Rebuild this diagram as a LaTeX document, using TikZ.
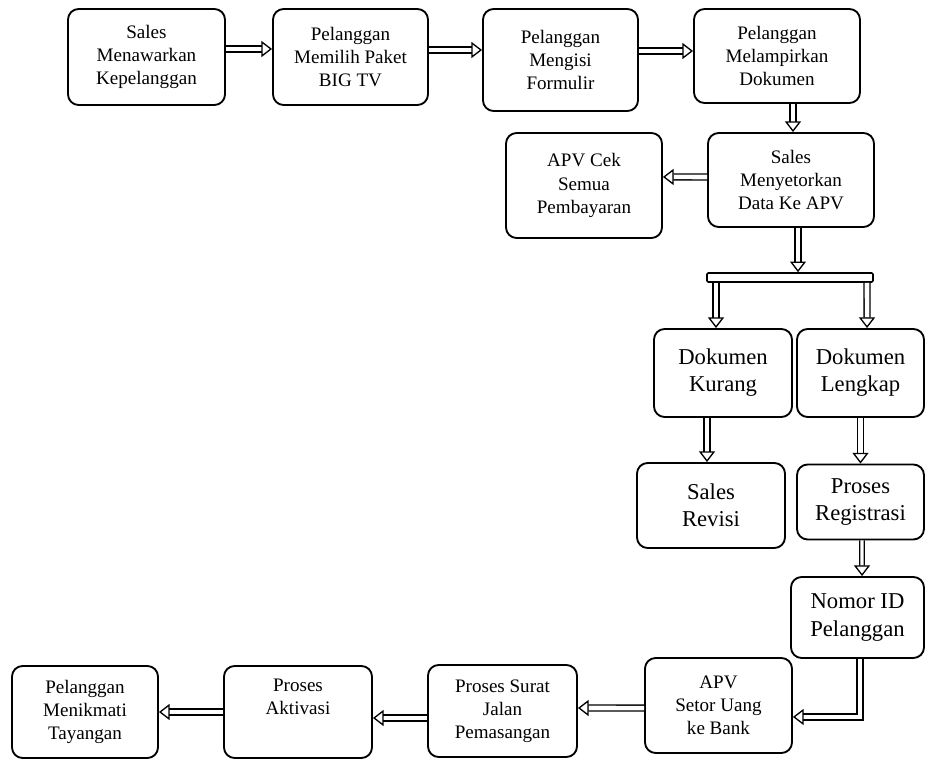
\documentclass[tikz,border=0pt]{standalone}
\usepackage{fontspec}
\setmainfont{Liberation Serif}
\usetikzlibrary{arrows.meta}
\usetikzlibrary{positioning}
\usetikzlibrary{calc}

\begin{document}
\begin{tikzpicture}[x=0.75pt,y=-0.75pt,>={Triangle[open,length=8pt,width=12pt,line width=1pt]},auto]
		\tikzstyle{box}=[draw,rounded corners=8pt,line width=1.4pt,align=center,inner sep=0pt]
		\tikzstyle{small}=[font=\fontsize{14.3pt}{17.3pt}\selectfont]
		\tikzstyle{large}=[font=\fontsize{17pt}{20.3pt}\selectfont]
		\tikzstyle{flow}=[draw,->,double,double distance=3.4pt,line width=1pt]
		\tikzstyle{thinflow}=[draw,->,double,double distance=2.4pt,line width=0.9pt]
		
		\useasboundingbox (0,0) rectangle (926,762);
		
		% baris atas
		\node[box,small,minimum width=117.75pt,minimum height=72pt]   (Sales)     at (146.5,57)  {Sales\\Menawarkan\\Kepelanggan};
		\node[box,small,minimum width=116.25pt,minimum height=72pt]   (Paket)     at (350.5,57)  {Pelanggan\\Memilih Paket\\BIG TV};
		\node[box,small,minimum width=116.25pt,minimum height=76.5pt] (Formulir)  at (560.5,60)  {Pelanggan\\Mengisi\\Formulir};
		\node[box,small,minimum width=124.5pt,minimum height=70.5pt]  (Dokumen)   at (777,56)    {Pelanggan\\Melampirkan\\Dokumen};
		\node[box,small,minimum width=124.5pt,minimum height=70.5pt]  (Setor)     at (791,180)   {Sales\\Menyetorkan\\Data Ke APV};
		\node[box,small,minimum width=117pt,minimum height=78.75pt]   (Cek)       at (584,185.5) {APV Cek\\Semua\\Pembayaran};
		\node[draw,line width=1.2pt,rounded corners=1pt,minimum width=124.5pt,minimum height=6.75pt,inner sep=0pt] (Bar) at (790,277.5) {};
		
		% cabang dokumen
		\node[box,large,minimum width=103.5pt,minimum height=66pt]    (Kurang)    at (723,373)   {Dokumen\\Kurang};
		\node[box,large,minimum width=95.25pt,minimum height=66pt]    (Lengkap)   at (860.5,373) {Dokumen\\Lengkap};
		\node[box,large,minimum width=111pt,minimum height=63.75pt]   (Revisi)    at (711,505.5) {Sales\\Revisi};
		\node[box,large,minimum width=95.25pt,minimum height=56.25pt] (Registrasi) at (860.5,502) {Proses\\Registrasi};
		\node[box,large,minimum width=99.75pt,minimum height=60.75pt] (NomorID)   at (857.5,617.5) {Nomor ID\\Pelanggan};
		
		% baris bawah
		\node[box,small,minimum width=110.25pt,minimum height=71.25pt] (Bank)     at (718.5,705.5) {APV\\Setor Uang\\ke Bank};
		\node[box,small,minimum width=111.75pt,minimum height=69pt]   (Surat)     at (502.5,711) {Proses Surat\\Jalan\\Pemasangan};
		\node[box,small,minimum width=111pt,minimum height=69pt]      (Aktivasi)  at (298,712)   {Proses\\Aktivasi\\\strut};
		\node[box,small,minimum width=109.5pt,minimum height=69pt]    (Tayangan)  at (85,712)    {Pelanggan\\Menikmati\\Tayangan};
		
		\path ([yshift=6pt]Sales.east)        edge[flow] ([yshift=6pt]Paket.west)
		([yshift=5.25pt]Paket.east)        edge[flow] ([yshift=7.5pt]Formulir.west)
		([yshift=6.75pt]Formulir.east)     edge[flow] ([yshift=3.75pt]Dokumen.west)
		([xshift=12pt]Dokumen.south)       edge[flow] ([xshift=1.5pt]Setor.north)
		([yshift=2.25pt]Setor.west)        edge[flow] ([yshift=6.4pt]Cek.east)
		([xshift=5.25pt]Setor.south)       edge[flow] ([xshift=6pt]Bar.north)
		([xshift=-55.5pt]Bar.south)        edge[flow] ([xshift=-5.25pt]Kurang.north)
		([xshift=57.75pt]Bar.south)        edge[flow] ([xshift=4.9pt]Lengkap.north)
		([xshift=-12pt]Kurang.south)       edge[flow] ([xshift=-3pt]Revisi.north)
		(Lengkap.south)                    edge[flow] (Registrasi.north)
		([xshift=1.1pt]Registrasi.south)   edge[thinflow] ([xshift=3.4pt]NomorID.north)
		([yshift=-1.9pt]Bank.west)         edge[flow] ([yshift=2.25pt]Surat.east)
		([yshift=-5.25pt]Surat.west)       edge[flow] ([yshift=-4.5pt]Aktivasi.east)
		(Aktivasi.west)                    edge[flow] (Tayangan.east)
		;
		\draw[flow] ([xshift=1.9pt]NomorID.south) |- ([yshift=-8.6pt]Bank.east);
\end{tikzpicture}
\end{document}
